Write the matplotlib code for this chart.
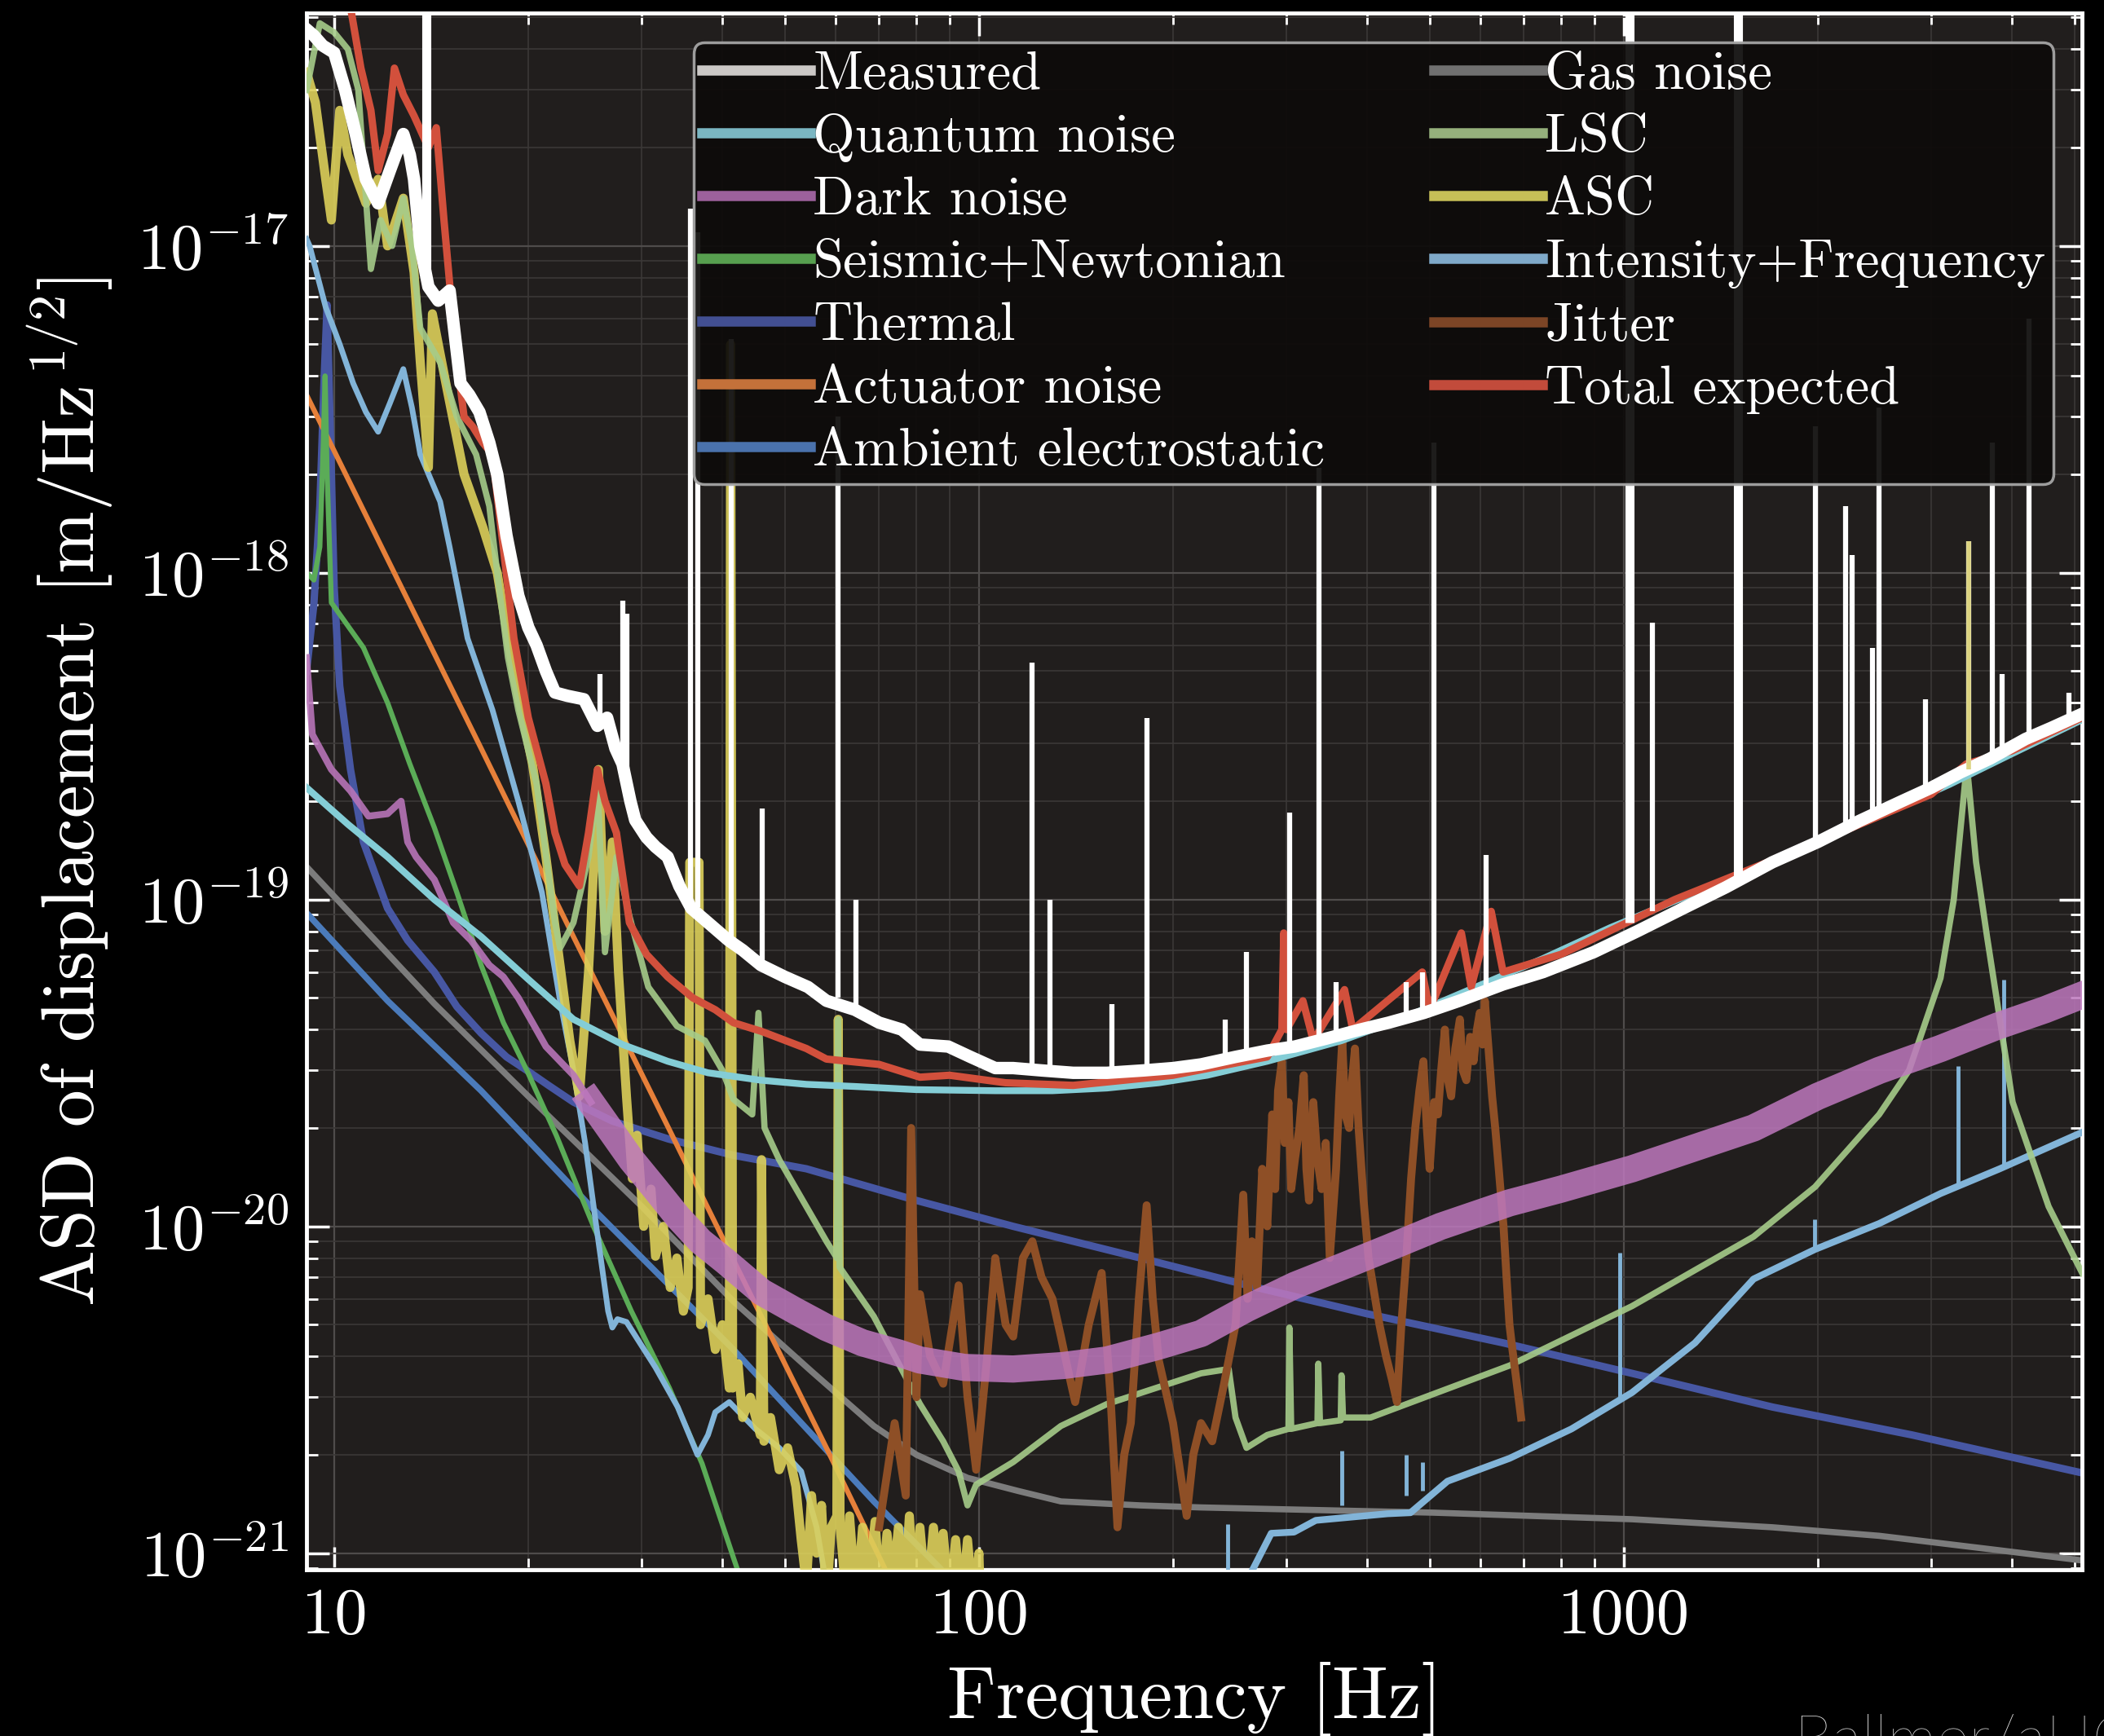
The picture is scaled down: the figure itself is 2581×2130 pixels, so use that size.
import numpy as np
import matplotlib
matplotlib.use("Agg")
import matplotlib.pyplot as plt
from matplotlib.lines import Line2D
from matplotlib.ticker import FixedLocator, FixedFormatter, LogLocator, NullFormatter

plt.rcParams['font.family'] = ['cmr10', 'DejaVu Serif']
plt.rcParams['mathtext.fontset'] = 'cm'
plt.rcParams['axes.formatter.use_mathtext'] = True

# noise curves, (frequency [Hz], ASD [m/rtHz])
measured = [(9.06, 4.6e-17), (9.3, 4.4e-17), (9.6, 4.1e-17), (10.0, 3.9e-17), (10.4, 3.0e-17),
            (10.8, 2.2e-17), (11.2, 1.6e-17), (11.7, 1.35e-17), (12.2, 1.7e-17), (12.8, 2.2e-17),
            (13.1, 1.9e-17), (13.3, 1.6e-17), (13.6, 1.0e-17), (14.0, 7.5e-18), (14.5, 6.8e-18),
            (15.1, 7.3e-18), (15.7, 3.8e-18), (16.2, 3.5e-18), (16.8, 3.1e-18), (17.4, 2.5e-18),
            (17.9, 2.0e-18), (18.5, 1.3e-18), (19.3, 8.5e-19), (20.0, 6.8e-19), (20.6, 6.0e-19),
            (21.3, 5.0e-19), (22.0, 4.3e-19), (23.0, 4.2e-19), (24.4, 4.1e-19), (25.6, 3.4e-19),
            (26.5, 3.6e-19), (27.3, 2.9e-19), (28.0, 2.6e-19), (28.8, 2.0e-19), (29.3, 1.75e-19),
            (30.5, 1.55e-19), (31.5, 1.45e-19), (32.9, 1.35e-19), (34.3, 1.1e-19), (35.8, 9.4e-20),
            (38.0, 8.5e-20), (40.9, 7.5e-20), (43.0, 7.0e-20), (45.9, 6.3e-20), (50.0, 5.8e-20),
            (54.3, 5.4e-20), (58.0, 4.9e-20), (64.2, 4.6e-20), (70.0, 4.2e-20), (75.9, 4.0e-20),
            (81.0, 3.6e-20), (89.6, 3.55e-20), (97.0, 3.3e-20), (106, 3.05e-20), (113, 3.05e-20),
            (125, 3.0e-20), (140, 2.95e-20), (158, 2.95e-20), (180, 3.0e-20), (200, 3.05e-20),
            (221, 3.13e-20), (250, 3.3e-20), (280, 3.45e-20), (309, 3.55e-20), (345, 3.75e-20),
            (390, 4.0e-20), (432, 4.2e-20), (490, 4.5e-20), (556, 4.9e-20), (650, 5.5e-20),
            (750, 6.0e-20), (898, 6.9e-20), (1050, 8.0e-20), (1250, 9.5e-20), (1440, 1.09e-19),
            (1700, 1.3e-19), (2000, 1.5e-19), (2320, 1.74e-19), (2700, 2.0e-19), (3000, 2.2e-19),
            (3330, 2.45e-19), (3700, 2.7e-19), (4200, 3.1e-19), (4600, 3.35e-19), (5140, 3.7e-19)]

# narrow lines in the measured spectrum: (frequency, bottom, top)
measured_lines = [(13.9, 8e-18, 6e-17), (25.8, 3.5e-19, 4.9e-19), (28.0, 2.6e-19, 8.2e-19),
                  (28.4, 2.4e-19, 7.5e-19), (35.7, 1.0e-19, 1.3e-17), (36.6, 9.5e-20, 1.1e-17),
                  (41.3, 7.5e-20, 5.2e-18), (46.1, 6.3e-20, 1.9e-19), (60.5, 5.0e-20, 3.0e-18),
                  (64.4, 4.6e-20, 1.0e-19), (121, 3.05e-20, 5.3e-19), (129, 3.0e-20, 1.0e-19),
                  (161, 2.95e-20, 4.8e-20), (182, 3.0e-20, 3.6e-19), (241, 3.2e-20, 4.3e-20),
                  (260, 3.3e-20, 6.9e-20), (303, 3.5e-20, 1.85e-19), (337, 3.7e-20, 2.1e-18),
                  (358, 3.8e-20, 5.6e-20), (460, 4.3e-20, 5.6e-20), (487, 4.5e-20, 6.0e-20),
                  (508, 4.6e-20, 2.5e-18), (612, 5.2e-20, 1.37e-19), (1020, 8.5e-20, 6e-17),
                  (1107, 9.2e-20, 7.05e-19), (1503, 1.15e-19, 6e-17), (1983, 1.5e-19, 2.8e-18),
                  (2207, 1.7e-19, 1.6e-18), (2258, 1.72e-19, 1.13e-18), (2432, 1.8e-19, 5.9e-19),
                  (2490, 1.85e-19, 3.2e-18), (2940, 2.2e-19, 4.1e-19), (3430, 2.5e-19, 1.25e-18),
                  (3730, 2.7e-19, 2.5e-18), (3860, 2.8e-19, 4.9e-19), (4250, 3.1e-19, 6e-18),
                  (4900, 3.6e-19, 4.3e-19)]

quantum = [(9.06, 2.2e-19), (10.5, 1.7e-19), (12.1, 1.35e-19), (14.3, 1.0e-19), (16.9, 7.7e-20),
           (20.0, 5.7e-20), (23.5, 4.3e-20), (28.0, 3.6e-20), (32.9, 3.2e-20), (38.0, 2.95e-20),
           (45.9, 2.8e-20), (54.0, 2.72e-20), (64.0, 2.68e-20), (80.0, 2.62e-20), (106, 2.6e-20),
           (130, 2.6e-20), (158, 2.65e-20), (190, 2.75e-20), (226, 2.9e-20), (280, 3.2e-20),
           (365, 3.7e-20), (450, 4.3e-20), (590, 5.4e-20), (750, 6.6e-20), (953, 8.2e-20),
           (1200, 9.9e-20), (1540, 1.2e-19), (2000, 1.5e-19), (2485, 1.8e-19), (3200, 2.25e-19),
           (4010, 2.8e-19), (5140, 3.55e-19)]

# dark noise: thin below 25 Hz, broad band above
dark_low = [(9.06, 5.5e-19), (9.25, 3.2e-19), (9.9, 2.5e-19), (10.6, 2.15e-19), (11.3, 1.8e-19),
            (12.1, 1.83e-19), (12.7, 2.0e-19), (13.0, 1.5e-19), (13.4, 1.35e-19), (14.3, 1.15e-19),
            (15.3, 8.5e-20), (16.3, 7.5e-20), (17.4, 6.3e-20), (18.3, 5.8e-20), (19.3, 5.0e-20),
            (20.3, 4.2e-20), (21.3, 3.55e-20), (23.5, 2.9e-20), (25, 2.4e-20)]
dark_high = [(25, 2.4e-20), (28.9, 1.6e-20), (31.5, 1.3e-20), (34.1, 1.07e-20), (37, 9e-21),
             (40.5, 7.8e-21), (46, 6.3e-21), (52, 5.5e-21), (58, 4.9e-21), (66, 4.4e-21), (75, 4.1e-21),
             (81, 3.9e-21), (95, 3.7e-21), (113, 3.66e-21), (135, 3.75e-21), (158, 3.9e-21),
             (190, 4.3e-21), (221, 4.7e-21), (260, 5.6e-21), (309, 6.6e-21), (370, 7.6e-21),
             (432, 8.6e-21), (520, 1.0e-20), (665, 1.18e-20), (800, 1.3e-20), (1030, 1.5e-20),
             (1300, 1.75e-20), (1590, 2.0e-20), (2000, 2.5e-20), (2490, 3.0e-20), (3100, 3.5e-20),
             (3800, 4.1e-20), (4500, 4.6e-20), (5140, 5.1e-20)]

seismic = [(9.06, 1.0e-18), (9.3, 9.5e-19), (9.5, 1.2e-18), (9.62, 2.5e-18), (9.68, 4e-18),
           (9.75, 2e-18), (9.9, 8.1e-19), (11.1, 5.9e-19), (12.1, 4.0e-19), (13.1, 2.6e-19),
           (14.3, 1.66e-19), (15.5, 1.05e-19), (16.9, 6.3e-20), (18.3, 4.2e-20), (19.9, 3.0e-20),
           (22.1, 1.9e-20), (25.3, 9.9e-21), (28.9, 5.5e-21), (33.1, 3.2e-21), (37.2, 1.88e-21),
           (41.6, 9.7e-22), (44, 7e-22)]

thermal = [(9.06, 5e-19), (9.3, 8e-19), (9.5, 1.6e-18), (9.65, 4e-18), (9.75, 6.6e-18),
           (9.85, 3e-18), (10.0, 9e-19), (10.2, 4.5e-19), (10.6, 2.5e-19), (11.1, 1.5e-19),
           (12.1, 9.4e-20), (13.0, 7.5e-20), (14.3, 6.0e-20), (15.5, 4.7e-20), (16.9, 3.9e-20),
           (18.5, 3.3e-20), (19.9, 3.0e-20), (21.5, 2.7e-20), (23.5, 2.4e-20), (27, 2.1e-20),
           (33, 1.85e-20), (41.6, 1.65e-20), (54, 1.5e-20), (80, 1.2e-20), (113, 1.0e-20),
           (178, 8.0e-21), (261, 6.6e-21), (400, 5.4e-21), (650, 4.4e-21), (1030, 3.55e-21),
           (1700, 2.8e-21), (2800, 2.3e-21), (5140, 1.76e-21)]

actuator = [(9.06, 3.5e-18), (12.1, 1.1e-18), (16.9, 2.9e-19), (23.5, 7.7e-20), (33, 2.0e-20),
            (41.6, 7.9e-21), (58, 2.1e-21), (72, 8.7e-22), (80, 6e-22)]

ambient = [(9.06, 9.1e-20), (12.1, 4.9e-20), (16.9, 2.6e-20), (25, 1.15e-20), (41.6, 4.2e-21),
           (68.7, 1.44e-21), (87, 9e-22), (95, 7.5e-22)]

gas = [(9.06, 1.26e-19), (14.3, 4.8e-20), (20, 2.5e-20), (30, 1.15e-20), (41.6, 5.9e-21),
       (55, 3.6e-21), (68.7, 2.45e-21), (80, 2.0e-21), (96, 1.7e-21), (115, 1.55e-21),
       (134, 1.44e-21), (178, 1.4e-21), (221, 1.38e-21), (508, 1.33e-21), (1030, 1.27e-21),
       (1700, 1.2e-21), (2490, 1.13e-21), (3830, 1.02e-21), (5140, 9.5e-22)]

lsc = [(9.06, 3.0e-17), (9.5, 4.8e-17), (10.0, 4.5e-17), (10.5, 4.0e-17), (10.9, 3.0e-17),
       (11.4, 8.5e-18), (11.8, 1.2e-17), (12.3, 1.0e-17), (12.8, 1.4e-17), (13.2, 1.0e-17),
       (13.6, 5.6e-18), (14.6, 4.4e-18), (15.5, 3.0e-18), (16.6, 2.3e-18), (17.4, 1.6e-18),
       (17.9, 1.0e-18), (18.6, 5.5e-19), (19.3, 3.8e-19), (20.6, 2.26e-19), (22.0, 8.5e-20),
       (22.4, 7.1e-20), (23.5, 8.5e-20), (24.8, 1.35e-19), (25.6, 2.26e-19), (26.3, 6.9e-20),
       (27.4, 1.35e-19), (28.7, 8.9e-20), (30.7, 5.4e-20), (34.0, 4.1e-20), (37.6, 3.7e-20),
       (40, 3.0e-20), (41.6, 2.45e-20), (44.5, 2.2e-20), (45.5, 4.5e-20), (46.5, 2.0e-20),
       (49, 1.6e-20), (58, 9.0e-21), (60.2, 8e-21), (60.5, 4.3e-20), (60.8, 7.5e-21),
       (68.7, 5.3e-21), (81, 2.86e-21), (88, 2.2e-21), (93, 1.78e-21), (96, 1.4e-21),
       (99, 1.62e-21), (103, 1.7e-21), (113, 1.9e-21), (134, 2.45e-21), (158, 2.86e-21),
       (188, 3.2e-21), (221, 3.55e-21), (244, 3.66e-21), (250, 2.6e-21), (260, 2.1e-21),
       (280, 2.3e-21), (302, 2.4e-21), (303, 4.9e-21), (305, 2.4e-21), (335, 2.5e-21),
       (336, 3.8e-21), (338, 2.5e-21), (364, 2.55e-21), (365, 3.5e-21), (367, 2.6e-21),
       (405, 2.6e-21), (665, 3.75e-21), (1030, 5.7e-21), (1590, 9.3e-21), (1980, 1.32e-20),
       (2490, 2.2e-20), (2770, 3.0e-20), (3100, 5.75e-20), (3250, 1.0e-19), (3405, 2.6e-19),
       (3520, 1.3e-19), (3660, 7.7e-20), (4010, 2.4e-20), (4560, 1.15e-20), (5140, 7.2e-21)]

asc = [(9.06, 3.4e-17), (9.35, 2.75e-17), (9.7, 1.6e-17), (9.9, 1.2e-17), (10.2, 2.6e-17),
       (10.5, 1.9e-17), (11.2, 1.35e-17), (11.7, 1.6e-17), (12.1, 1.0e-17), (12.8, 1.4e-17),
       (13.3, 8.3e-18), (13.6, 4.4e-18), (14.0, 2.1e-18), (14.2, 6.2e-18), (14.9, 3.8e-18),
       (15.9, 2.0e-18), (17.0, 1.38e-18), (17.9, 1.0e-18), (19.0, 4.9e-19), (20.3, 2.6e-19),
       (21.3, 1.35e-19), (22.4, 6.3e-20), (23.2, 3.7e-20), (24.0, 2.5e-20), (24.8, 6e-20),
       (25.7, 2.5e-19), (26.3, 8e-20), (27.0, 1.5e-19), (27.6, 6e-20), (28.4, 2.5e-20),
       (29.0, 1.4e-20), (29.5, 1.9e-20), (30.2, 1.0e-20), (31.0, 1.3e-20), (31.5, 8.1e-21),
       (32.4, 1.0e-20), (33.2, 6.5e-21), (34.0, 8.0e-21), (34.8, 5.5e-21), (35.4, 6.5e-21),
       (35.6, 1.3e-19), (36.8, 1.3e-19), (37.0, 5e-21), (38.0, 6.0e-21), (39.0, 4.2e-21),
       (40.0, 5.0e-21), (41.0, 3.2e-21), (41.2, 5e-18), (41.5, 3.2e-21), (42.3, 3.8e-21),
       (43.0, 2.6e-21), (44.2, 3.0e-21), (45.8, 2.3e-21), (46.0, 1.6e-20), (46.4, 2.2e-21),
       (47.5, 2.6e-21), (49.0, 1.8e-21), (50.5, 2.1e-21), (52.0, 1.6e-21), (53.0, 1.1e-21),
       (54.0, 8e-22), (55.0, 1.5e-21), (56.0, 1.0e-21), (57.0, 1.4e-21), (58.0, 7e-22),
       (59.0, 1.2e-21), (60.2, 1.3e-21), (60.5, 4.3e-20), (60.9, 1.2e-21), (62.0, 8e-22),
       (63.0, 1.3e-21), (64.5, 7e-22), (66.0, 1.2e-21), (67.5, 8e-22), (69.0, 1.25e-21),
       (70.5, 7e-22), (72.0, 1.15e-21), (73.5, 8e-22), (75.0, 1.2e-21), (76.5, 7e-22),
       (78.0, 1.3e-21), (79.5, 7e-22), (81.0, 1.2e-21), (83.0, 7e-22), (85.0, 1.2e-21),
       (86.5, 8e-22), (88.0, 1.15e-21), (90.0, 7e-22), (92.0, 1.1e-21), (94.0, 7e-22),
       (96.0, 1.1e-21), (98.0, 7e-22), (100.0, 1.0e-21), (101.0, 5e-22)]
# ASC line near 3.4 kHz: (frequency, bottom, top)
asc_lines = [(3430, 2.5e-19, 1.25e-18)]

intensity_low = [(9.06, 1.05e-17), (9.16, 1.0e-17), (9.7, 6.5e-18), (10.2, 5.0e-18), (10.7, 3.8e-18),
                 (11.2, 3.1e-18), (11.7, 2.7e-18), (12.2, 3.3e-18), (12.8, 4.2e-18), (13.2, 3.2e-18),
                 (13.6, 2.3e-18), (14.6, 1.65e-18), (15.1, 1.2e-18), (16.1, 6.3e-19), (17.6, 3.8e-19),
                 (19.3, 2.0e-19), (21.0, 1.05e-19), (22.4, 4.9e-20), (23.5, 3.0e-20), (24.5, 1.8e-20),
                 (25.5, 1.0e-20), (26.6, 5.5e-21), (27.0, 4.9e-21), (27.5, 5.2e-21), (28.4, 5.1e-21),
                 (31.5, 3.7e-21), (34.1, 2.8e-21), (36.6, 2.0e-21), (38, 2.3e-21), (39, 2.7e-21),
                 (41, 2.9e-21), (45, 2.4e-21), (49, 2.1e-21), (53, 1.78e-21), (56, 1.2e-21),
                 (58, 8e-22)]
intensity_high = [(265, 8.8e-22), (284, 1.15e-21), (308, 1.16e-21), (333, 1.26e-21), (430, 1.32e-21),
                  (467, 1.33e-21), (533, 1.66e-21), (665, 1.95e-21), (830, 2.4e-21), (1030, 3.1e-21),
                  (1290, 4.4e-21), (1590, 6.9e-21), (1980, 8.5e-21), (2490, 1.02e-20), (3100, 1.26e-20),
                  (3830, 1.5e-20), (5140, 1.94e-20)]
intensity_lines = [(243, 8.9e-22, 1.23e-21), (365, 1.4e-21, 2.06e-21), (460, 1.5e-21, 2.0e-21),
                   (488, 1.55e-21, 1.9e-21), (985, 3.0e-21, 8.3e-21), (1980, 8.5e-21, 1.05e-20),
                   (3300, 1.35e-20, 3.1e-20), (3880, 1.5e-20, 5.7e-20)]

jitter = [(70, 1.2e-21), (74, 2.5e-21), (77, 1.5e-21), (78.5, 2.0e-20), (80, 3e-21), (81, 6.2e-21),
          (84, 4e-21), (88, 3.3e-21), (91, 5e-21), (93, 6.6e-21), (96, 3e-21), (99, 1.8e-21),
          (103, 4e-21), (106, 8e-21), (110, 5e-21), (113, 4.6e-21), (117, 8e-21), (121, 9e-21),
          (125, 7e-21), (130, 6e-21), (134, 4.6e-21), (138, 3.5e-21), (141, 2.9e-21), (148, 5e-21),
          (155, 7.2e-21), (160, 3e-21), (164, 1.2e-21), (168, 2e-21), (172, 2.5e-21), (177, 6e-21),
          (182, 1.16e-20), (186, 6e-21), (190, 3.9e-21), (200, 2.5e-21), (210, 1.3e-21), (215, 2e-21),
          (221, 2.5e-21), (230, 2.2e-21), (240, 3.3e-21), (250, 5e-21), (257, 1.25e-20), (261, 6e-21),
          (265, 9e-21), (270, 6.5e-21), (275, 1.5e-20), (280, 1.0e-20), (285, 2.2e-20), (288, 1.3e-20),
          (291, 2.6e-20), (295, 3.2e-20), (298, 1.8e-20), (302, 2.4e-20), (305, 1.3e-20), (309, 1.6e-20),
          (314, 2.0e-20), (319, 2.9e-20), (322, 1.5e-20), (325, 1.2e-20), (330, 2.4e-20), (335, 1.6e-20),
          (340, 1.3e-20), (345, 1.8e-20), (350, 8e-21), (358, 1.5e-20), (362, 2.5e-20), (366, 3.7e-20),
          (370, 2.2e-20), (375, 2.0e-20), (379, 2.8e-20), (383, 3.5e-20), (388, 2.0e-20), (395, 1.2e-20),
          (402, 8e-21), (410, 6.3e-21), (418, 5e-21), (428, 4e-21), (437, 3.4e-21), (445, 2.9e-21),
          (452, 5e-21), (460, 8e-21), (468, 1.4e-20), (475, 2e-20), (482, 2.6e-20), (489, 3.2e-20),
          (495, 2.0e-20), (500, 1.5e-20), (508, 2.4e-20), (515, 2.2e-20), (521, 3.0e-20), (528, 4.0e-20),
          (534, 2.8e-20), (540, 2.5e-20), (548, 3.5e-20), (557, 4.3e-20), (563, 3.0e-20), (570, 2.8e-20),
          (578, 3.8e-20), (585, 3.2e-20), (592, 4.0e-20), (598, 4.5e-20), (604, 3.6e-20), (609, 4.9e-20),
          (617, 3.5e-20), (625, 2.5e-20), (632, 2.0e-20), (640, 1.5e-20), (651, 1.0e-20), (658, 7e-21),
          (665, 5e-21), (672, 4.2e-21), (680, 3.5e-21), (693, 2.6e-21)]

total = [(9.06, 8e-17), (10.5, 6e-17), (11.0, 3.5e-17), (11.4, 2.6e-17), (11.7, 1.7e-17),
         (12.1, 2.2e-17), (12.4, 3.5e-17), (12.8, 2.9e-17), (13.3, 2.5e-17), (14.0, 2.0e-17),
         (14.4, 2.3e-17), (14.8, 1.2e-17), (15.4, 5e-18), (15.9, 3.0e-18), (16.4, 2.8e-18),
         (17.0, 2.5e-18), (17.6, 2.3e-18), (18.2, 1.3e-18), (19.0, 6.3e-19), (20.0, 3.6e-19),
         (21.3, 2.26e-19), (22.0, 1.6e-19), (22.8, 1.28e-19), (24.0, 1.1e-19), (24.8, 1.6e-19),
         (25.6, 2.5e-19), (26.3, 2.0e-19), (27.4, 1.6e-19), (28.7, 8.5e-20), (30.5, 6.8e-20),
         (32.9, 5.8e-20), (36, 5.0e-20), (39, 4.6e-20), (41.6, 4.2e-20), (46, 3.95e-20),
         (54, 3.5e-20), (58, 3.25e-20), (70, 3.13e-20), (81, 2.86e-20), (90, 2.9e-20),
         (110, 2.75e-20), (140, 2.7e-20), (200, 2.9e-20), (280, 3.3e-20), (295, 4e-20),
         (297, 7.9e-20), (300, 4e-20), (318, 4.9e-20), (330, 3.7e-20), (369, 5.3e-20),
         (380, 4.0e-20), (487, 6.0e-20), (500, 4.6e-20), (560, 7.9e-20), (580, 5.4e-20),
         (623, 9.2e-20), (650, 6e-20), (800, 6.8e-20), (1200, 1.0e-19), (2000, 1.5e-19),
         (3000, 2.1e-19), (3400, 2.6e-19), (4000, 2.85e-19), (5140, 3.6e-19)]

legend_labels = ['Measured', 'Quantum noise', 'Dark noise', 'Seismic+Newtonian', 'Thermal',
                 'Actuator noise', 'Ambient electrostatic', 'Gas noise', 'LSC', 'ASC',
                 'Intensity+Frequency', 'Jitter', 'Total expected']
legend_colors = ['#cbc8c6', '#7ab6c2', '#9c619c', '#579f4f', '#424f92', '#c4713a', '#4a72ac',
                 '#707070', '#95b07c', '#c6bf57', '#7fa9c9', '#7c4526', '#c24b3b']

xticks = [10, 100, 1000]
xtick_labels = ['10', '100', '1000']
yticks = [1e-21, 1e-20, 1e-19, 1e-18, 1e-17]
ytick_labels = ['$10^{-21}$', '$10^{-20}$', '$10^{-19}$', '$10^{-18}$', '$10^{-17}$']


fig = plt.figure(figsize=(25.81, 21.30), dpi=100, facecolor='black')
ax = fig.add_axes([0.1457, 0.0958, 0.8439, 0.8967])
ax.set_facecolor('#211e1d')
ax.set_xscale('log')
ax.set_yscale('log')


def draw(pts, color, lw, z, alpha=1.0):
    f, a = np.array(pts).T
    ax.plot(f, a, color=color, lw=lw, zorder=z, alpha=alpha, solid_joinstyle='round')


draw(gas, '#7c7c7c', 5.5, 2)
draw(ambient, '#4b7bbb', 5.5, 2)
draw(thermal, '#4757a3', 6.5, 2)
draw(actuator, '#e6803a', 4.5, 2)
draw(seismic, '#5bac57', 4.5, 2)
draw(intensity_low, '#82b4d8', 5, 3)
draw(intensity_high, '#82b4d8', 6, 3)
for f, lo, hi in intensity_lines:
    ax.vlines(f, lo, hi, color='#82b4d8', lw=3.5, zorder=3)
draw(asc, '#dcd05a', 8, 3, 0.9)
draw(lsc, '#a6cc8a', 5.5, 4, 0.9)
draw(jitter, '#8e4f26', 7, 4)
draw(dark_low, '#b874b8', 6, 5, 0.9)
draw(dark_high, '#be78be', 24, 5, 0.85)
draw(quantum, '#84cdd6', 6, 6)
draw(total, '#d2503c', 6.5, 7)
draw(measured, 'white', 11, 8)
for f, lo, hi in measured_lines:
    # lines running off the top are the broad ones
    ax.vlines(f, lo, hi, color='white', lw=8 if hi > 4e-17 else 4.5, zorder=8)
for f, lo, hi in asc_lines:
    ax.vlines(f, lo, hi, color='#d6cc6a', lw=4, zorder=9, alpha=0.85)

ax.set_xlim(9.06, 5140)
ax.set_ylim(8.9e-22, 5.16e-17)

ax.xaxis.set_major_locator(FixedLocator(xticks))
ax.xaxis.set_major_formatter(FixedFormatter(xtick_labels))
ax.yaxis.set_major_locator(FixedLocator(yticks))
ax.yaxis.set_major_formatter(FixedFormatter(ytick_labels))
for axis in (ax.xaxis, ax.yaxis):
    axis.set_minor_locator(LogLocator(base=10, subs=np.arange(2, 10)))
    axis.set_minor_formatter(NullFormatter())

ax.set_axisbelow(True)
ax.grid(which='major', color='#4f4c4b', lw=1.6)
ax.grid(which='minor', color='#3b3837', lw=1.2)
ax.tick_params(which='both', direction='in', top=True, right=True, colors='white',
               labelsize=58, pad=16)
ax.tick_params(which='major', length=20, width=2.5)
ax.tick_params(which='minor', length=10, width=2)
for s in ax.spines.values():
    s.set_color('white')
    s.set_linewidth(3.5)

ax.set_xlabel('Frequency [Hz]', fontsize=66, color='white', labelpad=14)
ax.set_ylabel('ASD of displacement [m/Hz$^{\\,1/2}$]', fontsize=66, color='white', labelpad=20)

handles = [Line2D([], [], color=c, lw=9) for c in legend_colors]
leg = ax.legend(handles, legend_labels, ncol=2, loc='upper right', bbox_to_anchor=(0.984, 0.981),
                fontsize=48, frameon=True, fancybox=True, framealpha=0.93, facecolor='#0d0b0a',
                edgecolor='#a8a8a8', handlelength=2.0, handletextpad=0.05, columnspacing=2.0,
                labelspacing=0.26, borderpad=0.15, borderaxespad=0)
for t in leg.get_texts():
    t.set_color('white')
leg.get_frame().set_linewidth(2.5)
leg.set_zorder(20)

fig.text(2200 / 2581, 1 - 2102 / 2130, 'Ballmer/aLIGO', ha='left', va='top', fontsize=55,
         color='#dddddd', family=['Lato', 'DejaVu Sans'], fontweight='light')

fig.savefig('out.png', dpi=100, facecolor='black')
